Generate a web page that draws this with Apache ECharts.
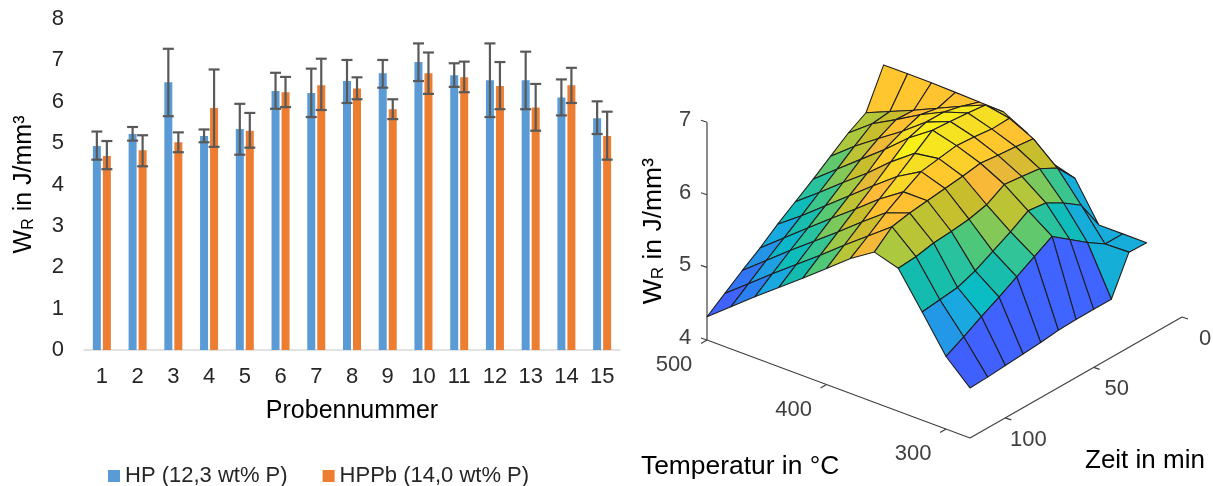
<!DOCTYPE html>
<html>
<head>
<meta charset="utf-8">
<title>WR</title>
<style>
  html, body { margin: 0; padding: 0; background: #fff; }
  #chart { width: 1213px; height: 486px; }
</style>
<script src="https://cdn.jsdelivr.net/npm/echarts@6/dist/echarts.min.js"></script>
</head>
<body>
<div id="chart"></div>
<script>
// left chart: bars with error bars
const samples = ['1', '2', '3', '4', '5', '6', '7', '8', '9', '10', '11', '12', '13', '14', '15'];
const hpMean = [4.93, 5.22, 6.47, 5.17, 5.34, 6.26, 6.21, 6.50, 6.69, 6.96, 6.64, 6.52, 6.52, 6.10, 5.60];
const hpHigh = [5.28, 5.39, 7.28, 5.33, 5.95, 6.70, 6.80, 7.01, 7.01, 7.41, 6.93, 7.41, 7.21, 6.54, 6.01];
const hpLow = [4.60, 5.06, 5.65, 5.02, 4.72, 5.83, 5.63, 5.97, 6.34, 6.50, 6.36, 5.63, 5.82, 5.67, 5.22];
const hppbMean = [4.69, 4.83, 5.02, 5.85, 5.30, 6.23, 6.40, 6.32, 5.82, 6.69, 6.59, 6.38, 5.86, 6.40, 5.17];
const hppbHigh = [5.05, 5.19, 5.26, 6.78, 5.73, 6.60, 7.04, 6.59, 6.06, 7.19, 6.97, 6.96, 6.43, 6.82, 5.76];
const hppbLow = [4.37, 4.44, 4.78, 4.91, 4.89, 5.87, 5.80, 6.06, 5.58, 6.19, 6.23, 5.82, 5.30, 5.97, 4.60];

// right chart: surface, rows = temperature, columns = time
const temperatures = [500, 480, 460, 440, 420, 400, 380, 360, 340, 320, 300, 280];
const times = [120, 110, 100, 90, 80, 70, 60, 50, 40, 30, 20];
const surface = [
  [4.32, 4.50, 4.68, 4.85, 5.04, 5.21, 5.38, 5.56, 5.74, 5.88, 6.40],
  [4.58, 4.76, 4.94, 5.11, 5.28, 5.46, 5.64, 5.82, 5.99, 6.02, 6.40],
  [4.84, 5.02, 5.20, 5.37, 5.54, 5.72, 5.90, 6.05, 6.17, 6.16, 6.40],
  [5.09, 5.27, 5.45, 5.63, 5.80, 5.97, 6.16, 6.27, 6.36, 6.31, 6.39],
  [5.34, 5.52, 5.70, 5.88, 6.06, 6.25, 6.44, 6.52, 6.52, 6.46, 6.38],
  [5.60, 5.78, 5.96, 6.14, 6.31, 6.49, 6.67, 6.65, 6.63, 6.60, 6.37],
  [5.86, 6.03, 6.21, 6.36, 6.50, 6.54, 6.58, 6.56, 6.53, 6.54, 6.20],
  [6.07, 6.28, 6.33, 6.36, 6.39, 6.42, 6.46, 6.43, 6.41, 6.38, 5.92],
  [5.97, 5.99, 6.04, 6.06, 6.09, 6.15, 6.29, 6.26, 6.23, 6.10, 5.82],
  [5.49, 5.52, 5.55, 5.64, 5.77, 5.90, 6.05, 6.02, 5.88, 5.71, 5.30],
  [5.00, 5.13, 5.27, 5.40, 5.54, 5.68, 5.82, 5.64, 5.46, 5.30, 5.30],
  [4.69, 4.70, 4.72, 4.74, 4.76, 4.79, 4.80, 4.80, 4.80, 5.31, 5.30]
];
const tempTicks = [500, 400, 300];
const timeTicks = [0, 50, 100];
const heightTicks = [4, 5, 6, 7];

const colorLevels = [4.3, 4.8, 5.02, 5.13, 5.27, 5.40, 5.52, 5.68, 5.78, 5.90, 6.0, 6.1, 6.2, 6.26, 6.3, 6.42, 6.55, 6.75];
const colorStops = ['#4050f8', '#4064ff', '#2a80f0', '#2398e6', '#19a8e0', '#0abcc4', '#14bcb0', '#30c498',
  '#50c878', '#84c858', '#afc83c', '#c8be2d', '#c8be2d', '#e8b838', '#ffb938', '#ffc82d', '#f5e122', '#fafa10'];

const FONT = '"Liberation Sans", Arial, sans-serif';

// orthographic view of the 3D box, the result goes through the hidden full size axes
function project(T, t, z) {
  return [
    707 + (500 - T) / 220 * 263 + (120 - t) / 120 * 212,
    340 + (500 - T) / 220 * 98 - (120 - t) / 120 * 121 - (z - 4) * 72.6
  ];
}

function faceColor(z) {
  let n = 0;
  while (n < colorLevels.length - 2 && z > colorLevels[n + 1]) n++;
  const f = Math.min(1, Math.max(0, (z - colorLevels[n]) / (colorLevels[n + 1] - colorLevels[n])));
  return echarts.color.lerp(f, [colorStops[n], colorStops[n + 1]]);
}

// back to front, so the near faces cover the far ones
const faces = [];
for (let i = 0; i < temperatures.length - 1; i++) {
  for (let j = times.length - 2; j >= 0; j--) {
    faces.push([i, j]);
  }
}

const errorBars = (offset) => (params, api) => {
  const x = api.coord([api.value(0), 0])[0] + offset;
  const top = api.coord([api.value(0), api.value(1)])[1];
  const bottom = api.coord([api.value(0), api.value(2)])[1];
  const style = { stroke: '#595959', lineWidth: 2.2 };
  return {
    type: 'group',
    children: [
      { type: 'line', shape: { x1: x, y1: top, x2: x, y2: bottom }, style },
      { type: 'line', shape: { x1: x - 5.5, y1: top, x2: x + 5.5, y2: top }, style },
      { type: 'line', shape: { x1: x - 5.5, y1: bottom, x2: x + 5.5, y2: bottom }, style }
    ]
  };
};

const renderFace = (params, api) => {
  const i = api.value(0);
  const j = api.value(1);
  const corners = [[i, j], [i + 1, j], [i + 1, j + 1], [i, j + 1]];
  return {
    type: 'polygon',
    shape: {
      points: corners.map(([a, b]) => api.coord(project(temperatures[a], times[b], surface[a][b])))
    },
    style: { fill: faceColor(surface[i + 1][j + 1]), stroke: '#1f1f1f', lineWidth: 1.1, lineJoin: 'round' }
  };
};

const renderAxes = (params, api) => {
  const line = (p, q) => {
    const a = api.coord(p);
    const b = api.coord(q);
    return { type: 'line', shape: { x1: a[0], y1: a[1], x2: b[0], y2: b[1] }, style: { stroke: '#404040', lineWidth: 1.2 } };
  };
  const label = (p, text) => {
    const a = api.coord(p);
    return {
      type: 'text',
      x: a[0],
      y: a[1],
      style: { text, fill: '#404040', font: '22px ' + FONT, textAlign: 'center', textVerticalAlign: 'middle' }
    };
  };
  const children = [
    line(project(500, 120, 4), project(500, 120, 7)),
    line(project(500, 120, 4), project(280, 120, 4)),
    line(project(280, 120, 4), project(280, 0, 4))
  ];
  heightTicks.forEach((z) => {
    const p = project(500, 120, z);
    children.push(line(p, [p[0] - 6, p[1] - 2]));
    children.push(label([p[0] - 22, p[1] - 2], String(z)));
  });
  tempTicks.forEach((T) => {
    const p = project(T, 120, 4);
    children.push(line(p, [p[0] - 6, p[1] + 3.5]));
    children.push(label([p[0] - 33, p[1] + 25], String(T)));
  });
  timeTicks.forEach((t) => {
    const p = project(280, t, 4);
    children.push(line(p, [p[0] + 6, p[1] + 2]));
    children.push(label([p[0] + 23, p[1] + 22], String(t)));
  });
  return { type: 'group', children };
};

const chart = echarts.init(document.getElementById('chart'));
const axisTitle = {
  a: { fontFamily: FONT, fontSize: 25, color: '#000' },
  b: { fontFamily: FONT, fontSize: 16, color: '#000', verticalAlign: 'bottom' }
};
const axisTitleRight = {
  a: { fontFamily: FONT, fontSize: 26.5, color: '#000' },
  b: { fontFamily: FONT, fontSize: 17, color: '#000', verticalAlign: 'bottom' }
};

chart.setOption({
  animation: false,
  textStyle: { fontFamily: FONT },
  legend: {
    left: 108,
    top: 465,
    itemWidth: 12,
    itemHeight: 12,
    itemGap: 35,
    icon: 'rect',
    padding: 0,
    data: ['HP (12,3 wt% P)', 'HPPb (14,0 wt% P)'],
    textStyle: { fontFamily: FONT, fontSize: 22, color: '#262626', padding: [0, 0, 0, 0] }
  },
  grid: [
    { left: 84, top: 19, width: 536, height: 331 },
    { left: 0, top: 0, width: 1213, height: 486 }
  ],
  xAxis: [
    {
      type: 'category',
      gridIndex: 0,
      data: samples,
      name: 'Probennummer',
      nameLocation: 'middle',
      nameGap: 49,
      nameTextStyle: { fontFamily: FONT, fontSize: 25, color: '#000' },
      axisLine: { lineStyle: { color: '#d9d9d9', width: 1.5 } },
      axisTick: { show: false },
      axisLabel: { fontFamily: FONT, fontSize: 22, color: '#262626', margin: 16, interval: 0 }
    },
    { type: 'value', gridIndex: 1, min: 0, max: 1213, show: false }
  ],
  yAxis: [
    {
      type: 'value',
      gridIndex: 0,
      min: 0,
      max: 8,
      interval: 1,
      name: '{a|W}{b|R}{a| in J/mm³}',
      nameLocation: 'middle',
      nameRotate: 90,
      nameGap: 47,
      nameTextStyle: { rich: axisTitle },
      axisLine: { show: false },
      axisTick: { show: false },
      splitLine: { show: false },
      axisLabel: { fontFamily: FONT, fontSize: 22, color: '#262626', margin: 20 }
    },
    { type: 'value', gridIndex: 1, min: 0, max: 486, inverse: true, show: false }
  ],
  graphic: [
    {
      type: 'text',
      left: 640,
      top: 158,
      rotation: Math.PI / 2,
      style: { text: '{a|W}{b|R}{a| in J/mm³}', rich: axisTitleRight }
    },
    {
      type: 'text',
      left: 641,
      top: 454,
      style: { text: 'Temperatur in °C', fill: '#000', font: '26.4px ' + FONT }
    },
    {
      type: 'text',
      left: 1085,
      top: 448,
      style: { text: 'Zeit in min', fill: '#000', font: '26px ' + FONT }
    }
  ],
  series: [
    {
      name: 'HP (12,3 wt% P)',
      type: 'bar',
      data: hpMean,
      barWidth: 8,
      barGap: '25%',
      itemStyle: { color: '#5b9bd5' }
    },
    {
      name: 'HPPb (14,0 wt% P)',
      type: 'bar',
      data: hppbMean,
      barWidth: 8,
      barGap: '25%',
      itemStyle: { color: '#ed7d31' }
    },
    {
      type: 'custom',
      renderItem: errorBars(-5),
      data: samples.map((s, k) => [k, hpHigh[k], hpLow[k]]),
      z: 5,
      silent: true
    },
    {
      type: 'custom',
      renderItem: errorBars(5),
      data: samples.map((s, k) => [k, hppbHigh[k], hppbLow[k]]),
      z: 5,
      silent: true
    },
    {
      type: 'custom',
      xAxisIndex: 1,
      yAxisIndex: 1,
      renderItem: renderAxes,
      data: [[0]],
      silent: true,
      clip: false
    },
    {
      type: 'custom',
      xAxisIndex: 1,
      yAxisIndex: 1,
      renderItem: renderFace,
      data: faces,
      z: 3,
      silent: true,
      clip: false
    }
  ]
});
</script>
</body>
</html>
